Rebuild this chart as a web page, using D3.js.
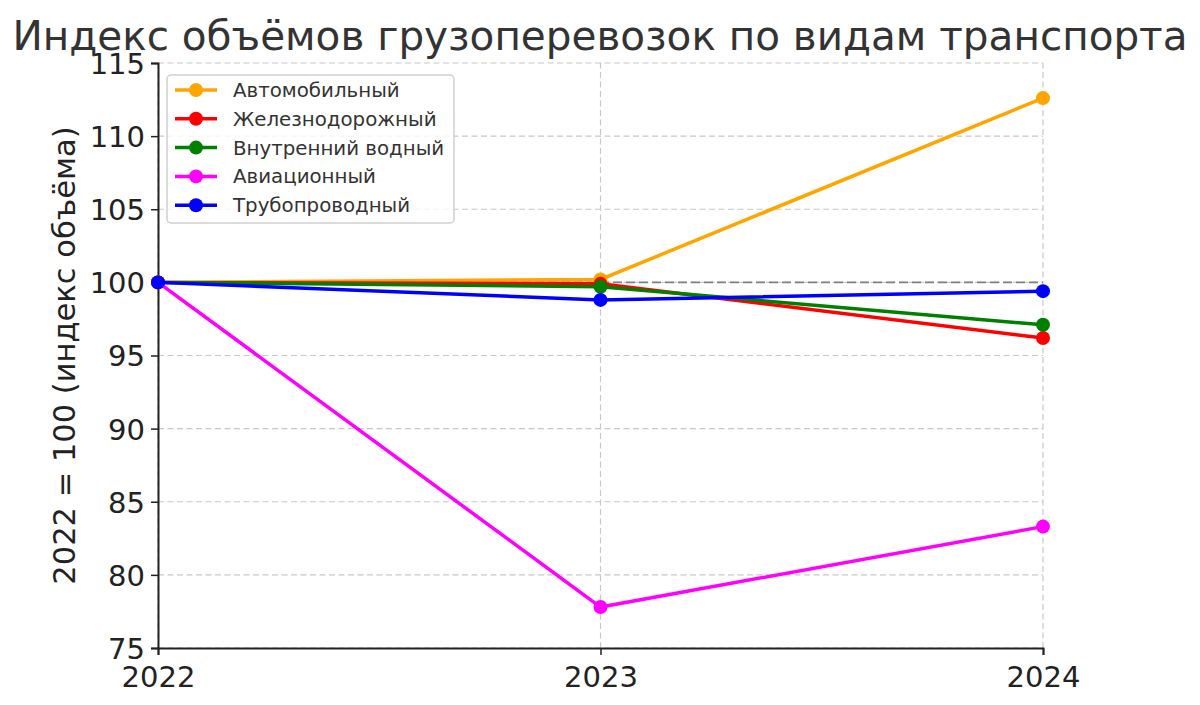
<!DOCTYPE html>
<html>
<head>
<meta charset="utf-8">
<script src="https://cdn.jsdelivr.net/npm/d3@7"></script>
<style>
  body { margin: 0; background: #fff; }
  svg { font-family: "DejaVu Sans", sans-serif; }
</style>
</head>
<body>
<div id="chart"></div>
<script>
var width = 1200, height = 705
var margin = { top: 63, right: 157, bottom: 57, left: 158 }

var years = [2022, 2023, 2024]
var seriesNames = ["Автомобильный", "Железнодорожный", "Внутренний водный", "Авиационный", "Трубопроводный"]
var seriesColors = ["orange", "red", "green", "magenta", "blue"]
var autoValues = [100, 100.2, 112.6]
var railValues = [100, 99.9, 96.2]
var waterValues = [100, 99.7, 97.1]
var airValues = [100, 77.8, 83.3]
var pipeValues = [100, 98.8, 99.4]
var yTicks = [75, 80, 85, 90, 95, 100, 105, 110, 115]

var allValues = [autoValues, railValues, waterValues, airValues, pipeValues]
var series = seriesNames.map(function (name, i) {
  return { name: name, color: seriesColors[i], values: allValues[i] }
})

var svg = d3.select("#chart").append("svg")
  .attr("width", width)
  .attr("height", height)

var x = d3.scaleLinear().domain([2022, 2024]).range([margin.left, width - margin.right])
var y = d3.scaleLinear().domain([75, 115]).range([height - margin.bottom, margin.top])

// grid lines
svg.append("g").selectAll("line.hgrid")
  .data(yTicks)
  .enter().append("line")
  .attr("x1", x(2022)).attr("x2", x(2024))
  .attr("y1", function (d) { return y(d) }).attr("y2", function (d) { return y(d) })
  .attr("stroke", "#c8c8c8").attr("stroke-width", 1.2)
  .attr("stroke-dasharray", "6,3.5")

svg.append("g").selectAll("line.vgrid")
  .data(years)
  .enter().append("line")
  .attr("x1", function (d) { return x(d) }).attr("x2", function (d) { return x(d) })
  .attr("y1", y(75)).attr("y2", y(115))
  .attr("stroke", "#c8c8c8").attr("stroke-width", 1.2)
  .attr("stroke-dasharray", "6,3.5")

// reference line at 100
svg.append("line")
  .attr("x1", x(2022)).attr("x2", x(2024))
  .attr("y1", y(100)).attr("y2", y(100))
  .attr("stroke", "#808080").attr("stroke-width", 1.8)
  .attr("stroke-dasharray", "9,4")

// axes
var yAxis = svg.append("g")
  .attr("transform", "translate(" + margin.left + ",0)")
  .call(d3.axisLeft(y).tickValues(yTicks).tickSize(7).tickPadding(6))
var xAxis = svg.append("g")
  .attr("transform", "translate(0," + (height - margin.bottom) + ")")
  .call(d3.axisBottom(x).tickValues(years).tickFormat(d3.format("d")).tickSize(7).tickPadding(4))

;[yAxis, xAxis].forEach(function (ax) {
  ax.select(".domain").attr("stroke", "#222").attr("stroke-width", 2)
  ax.selectAll(".tick line").attr("stroke", "#222").attr("stroke-width", 1.5)
  ax.selectAll("text").attr("fill", "#222").style("font-size", "29px")
    .style("font-family", "DejaVu Sans, sans-serif")
})
xAxis.selectAll(".tick text").attr("dy", "0.95em")
yAxis.selectAll(".tick text").attr("dy", "0.36em")

// lines
var line = d3.line()
  .x(function (d, i) { return x(years[i]) })
  .y(function (d) { return y(d) })

var groups = svg.append("g").selectAll("g.series")
  .data(series)
  .enter().append("g")

groups.append("path")
  .attr("d", function (d) { return line(d.values) })
  .attr("fill", "none")
  .attr("stroke", function (d) { return d.color })
  .attr("stroke-width", 3.5)

groups.selectAll("circle")
  .data(function (d) { return d.values.map(function (v, i) { return { v: v, i: i, color: d.color } }) })
  .enter().append("circle")
  .attr("cx", function (d) { return x(years[d.i]) })
  .attr("cy", function (d) { return y(d.v) })
  .attr("r", 7)
  .attr("fill", function (d) { return d.color })

// title
svg.append("text")
  .attr("x", 600).attr("y", 50)
  .attr("text-anchor", "middle")
  .attr("fill", "#333")
  .style("font-size", "40.5px")
  .text("Индекс объёмов грузоперевозок по видам транспорта")

// y label
svg.append("text")
  .attr("transform", "translate(75," + y(95) + ") rotate(-90)")
  .attr("text-anchor", "middle")
  .attr("fill", "#222")
  .style("font-size", "30.5px")
  .text("2022 = 100 (индекс объёма)")

// legend
var legend = svg.append("g").attr("transform", "translate(167,75)")
legend.append("rect")
  .attr("width", 287).attr("height", 148)
  .attr("rx", 4)
  .attr("fill", "rgba(255,255,255,0.8)")
  .attr("stroke", "#d0d0d0").attr("stroke-width", 1.5)

var items = legend.selectAll("g.item")
  .data(series)
  .enter().append("g")
  .attr("transform", function (d, i) { return "translate(0," + (15 + i * 28.8) + ")" })

items.append("line")
  .attr("x1", 8).attr("x2", 50)
  .attr("stroke", function (d) { return d.color })
  .attr("stroke-width", 3.5)
items.append("circle")
  .attr("cx", 29).attr("r", 7)
  .attr("fill", function (d) { return d.color })
items.append("text")
  .attr("x", 66).attr("dy", "0.35em")
  .attr("fill", "#333")
  .style("font-size", "19.8px")
  .text(function (d) { return d.name })
</script>
</body>
</html>
